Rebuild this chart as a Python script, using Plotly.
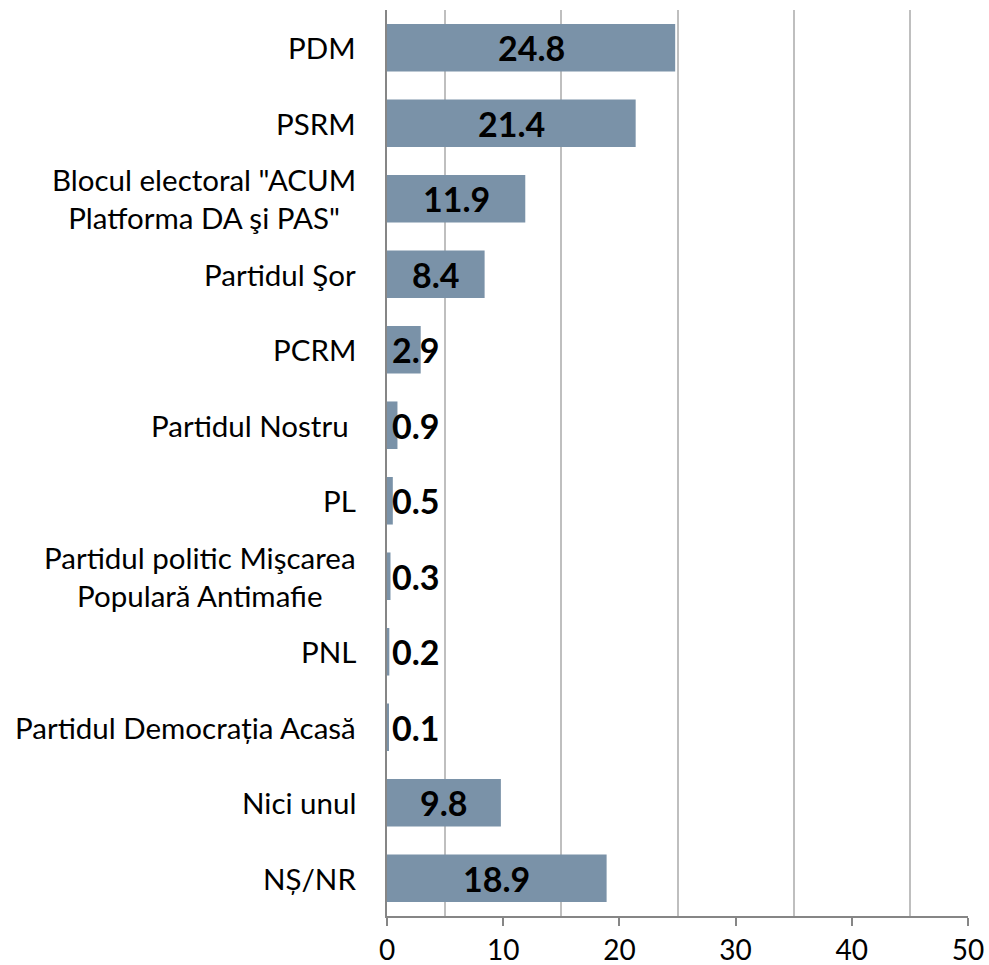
import plotly.graph_objects as go

categories = [
    "PDM",
    "PSRM",
    "Blocul electoral \"ACUM<br>Platforma DA şi PAS\"",
    "Partidul Şor",
    "PCRM",
    "Partidul Nostru ",
    "PL",
    "Partidul politic Mişcarea<br>Populară Antimafie",
    "PNL",
    "Partidul Democrația Acasă",
    "Nici unul",
    "NȘ/NR",
]
values = [24.8, 21.4, 11.9, 8.4, 2.9, 0.9, 0.5, 0.3, 0.2, 0.1, 9.8, 18.9]
x_ticks = [0, 10, 20, 30, 40, 50]

BAR_COLOR = "#7A92A8"
AXIS_COLOR = "#868686"
GRID_COLOR = "#BFBFBF"
FONT = "Lato"

fig = go.Figure()
fig.add_trace(go.Bar(
    y=list(range(len(categories))),
    x=values,
    orientation="h",
    marker=dict(color=BAR_COLOR, line=dict(width=0)),
    width=0.63,
    hoverinfo="skip",
))

annotations = []
for i, (cat, v) in enumerate(zip(categories, values)):
    annotations.append(dict(
        x=0, xref="paper", y=i, yref="y",
        text=cat, showarrow=False, xanchor="right", yanchor="middle",
        align="center", xshift=-29,
        font=dict(family=FONT, size=29.5, color="#000000"),
    ))
    annotations.append(dict(
        x=max(v / 2, 2.5), xref="x", y=i, yref="y",
        text=f"<b>{v:.1f}</b>", showarrow=False, xanchor="center", yanchor="middle",
        font=dict(family=FONT, size=34, color="#000000"),
    ))

fig.update_layout(
    width=989, height=965,
    margin=dict(l=387, r=21, t=10, b=49),
    paper_bgcolor="white", plot_bgcolor="white",
    showlegend=False,
    annotations=annotations,
    xaxis=dict(
        range=[0, 50], tickvals=x_ticks, ticktext=[str(t) for t in x_ticks],
        showgrid=False, zeroline=False, automargin=False,
        showline=True, linecolor=AXIS_COLOR, linewidth=2,
        ticks="outside", ticklen=8, tickwidth=2, tickcolor=AXIS_COLOR,
        tickfont=dict(family=FONT, size=28, color="#000000"),
        minor=dict(tick0=5, dtick=10, showgrid=True, gridcolor=GRID_COLOR, gridwidth=2, ticks=""),
        fixedrange=True,
    ),
    yaxis=dict(
        range=[len(categories) - 0.5, -0.5], automargin=False,
        showticklabels=False, showgrid=False, zeroline=False,
        showline=True, linecolor=AXIS_COLOR, linewidth=2,
        ticks="", fixedrange=True,
    ),
)

fig.write_html(
    "out.html",
    config={"displayModeBar": False},
    post_script="document.body.style.margin='0';document.body.style.overflow='hidden';",
)
